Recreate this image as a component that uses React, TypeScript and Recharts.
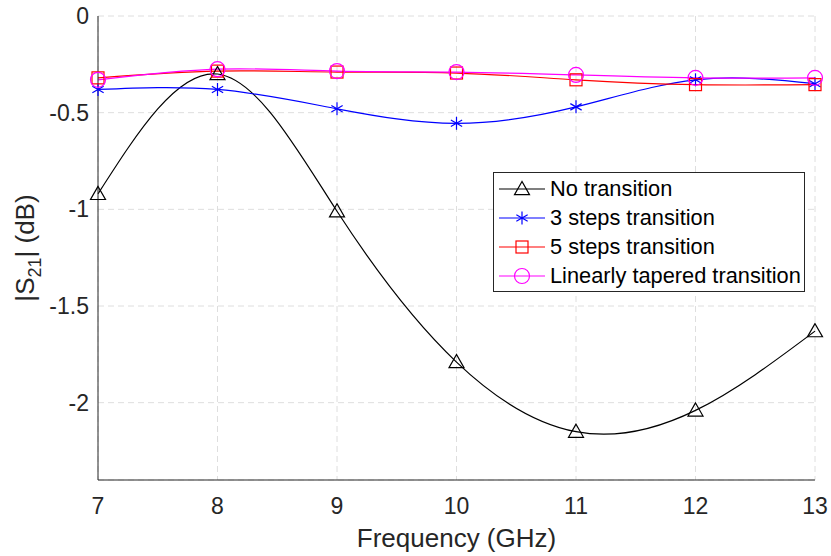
import React from 'react';
import { LineChart, Line, XAxis, YAxis, CartesianGrid } from 'recharts';

const freq = [7, 8, 9, 10, 11, 12, 13];
const noTransition = [-0.92, -0.3, -1.01, -1.79, -2.15, -2.04, -1.63];
const steps3 = [-0.38, -0.38, -0.48, -0.555, -0.47, -0.33, -0.35];
const steps5 = [-0.32, -0.285, -0.29, -0.295, -0.33, -0.355, -0.355];
const tapered = [-0.33, -0.275, -0.285, -0.29, -0.305, -0.32, -0.32];
const xTicks = [7, 8, 9, 10, 11, 12, 13];
const yTicks = [0, -0.5, -1, -1.5, -2];

const data = freq.map((f, i) => ({
  f,
  none: noTransition[i],
  s3: steps3[i],
  s5: steps5[i],
  lin: tapered[i],
}));

const FONT = '"Liberation Sans", Arial, sans-serif';
const TXT = '#262626';

type Shape = 'tri' | 'star' | 'sq' | 'circ';

function Marker({ cx, cy, shape, color }: { cx: number; cy: number; shape: Shape; color: string }) {
  const sw = 1.2;
  if (shape === 'tri') {
    const r = 7.5;
    return (
      <polygon
        points={`${cx},${cy - r} ${cx - r},${cy + r * 0.75} ${cx + r},${cy + r * 0.75}`}
        fill="none"
        stroke={color}
        strokeWidth={sw}
      />
    );
  }
  if (shape === 'star') {
    const r = 6.5;
    const dx = r * 0.87;
    const dy = r * 0.5;
    return (
      <g stroke={color} strokeWidth={sw}>
        <line x1={cx} y1={cy - r} x2={cx} y2={cy + r} />
        <line x1={cx - dx} y1={cy - dy} x2={cx + dx} y2={cy + dy} />
        <line x1={cx - dx} y1={cy + dy} x2={cx + dx} y2={cy - dy} />
      </g>
    );
  }
  if (shape === 'sq') {
    const r = 6;
    return <rect x={cx - r} y={cy - r} width={2 * r} height={2 * r} fill="none" stroke={color} strokeWidth={sw} />;
  }
  return <circle cx={cx} cy={cy} r={7.5} fill="none" stroke={color} strokeWidth={sw} />;
}

const dotFor = (shape: Shape, color: string) => (props: any) => (
  <Marker key={`${shape}-${props.index}`} cx={props.cx} cy={props.cy} shape={shape} color={color} />
);

const series = [
  { key: 'none', name: 'No transition', color: '#000000', shape: 'tri' as Shape },
  { key: 's3', name: '3 steps transition', color: '#0000ff', shape: 'star' as Shape },
  { key: 's5', name: '5 steps transition', color: '#ff0000', shape: 'sq' as Shape },
  { key: 'lin', name: 'Linearly tapered transition', color: '#ff00ff', shape: 'circ' as Shape },
];

function LegendBox() {
  return (
    <div
      style={{
        position: 'absolute',
        left: 493,
        top: 172,
        width: 312,
        height: 120,
        border: '1px solid #262626',
        background: '#fff',
        padding: '1px 0',
        fontFamily: FONT,
        fontSize: 21.8,
        color: '#000',
        boxSizing: 'border-box',
      }}
    >
      {series.map((s) => (
        <div key={s.key} style={{ display: 'flex', alignItems: 'center', height: 29, whiteSpace: 'nowrap' }}>
          <svg width={52} height={20} style={{ marginLeft: 4, flex: 'none' }}>
            <line x1={1} y1={10} x2={47} y2={10} stroke={s.color} strokeWidth={1.2} />
            <Marker cx={24} cy={10} shape={s.shape} color={s.color} />
          </svg>
          <span>{s.name}</span>
        </div>
      ))}
    </div>
  );
}

function YTitle({ viewBox }: any) {
  const x = 34;
  const y = viewBox.y + viewBox.height / 2;
  return (
    <text
      x={x}
      y={y}
      transform={`rotate(-90 ${x} ${y})`}
      textAnchor="middle"
      fill={TXT}
      fontFamily={FONT}
      fontSize={26}
    >
      |S<tspan fontSize={18} dy={7}>21</tspan>
      <tspan dy={-7}>| (dB)</tspan>
    </text>
  );
}

export default function App() {
  return (
    <div style={{ position: 'absolute', left: 0, top: 0, width: 831, height: 556, background: '#fff' }}>
      <LineChart width={831} height={556} data={data} margin={{ top: 16, right: 16, bottom: 0, left: 0 }}>
        <CartesianGrid stroke="#dedede" strokeDasharray="6 4" />
        <XAxis
          dataKey="f"
          type="number"
          domain={[7, 13]}
          ticks={xTicks}
          height={76}
          tickLine={false}
          tickMargin={12}
          stroke={TXT}
          tick={{ fill: TXT, fontFamily: FONT, fontSize: 23 }}
          label={{ value: 'Frequency (GHz)', position: 'insideBottom', offset: 9, fill: TXT, fontFamily: FONT, fontSize: 26 }}
        />
        <XAxis xAxisId="top" orientation="top" dataKey="f" type="number" domain={[7, 13]} height={0} tick={false} tickLine={false} stroke={TXT} />
        <YAxis
          type="number"
          domain={[-2.4, 0]}
          ticks={yTicks}
          width={98}
          tickLine={false}
          tickMargin={3}
          stroke={TXT}
          tick={{ fill: TXT, fontFamily: FONT, fontSize: 23 }}
          label={<YTitle />}
        />
        <YAxis yAxisId="right" orientation="right" type="number" domain={[-2.4, 0]} width={0} tick={false} tickLine={false} stroke={TXT} />
        {series.map((s) => (
          <Line
            key={s.key}
            type="natural"
            dataKey={s.key}
            name={s.name}
            stroke={s.color}
            strokeWidth={1.2}
            dot={dotFor(s.shape, s.color)}
            activeDot={false}
            isAnimationActive={false}
          />
        ))}
      </LineChart>
      <LegendBox />
    </div>
  );
}
